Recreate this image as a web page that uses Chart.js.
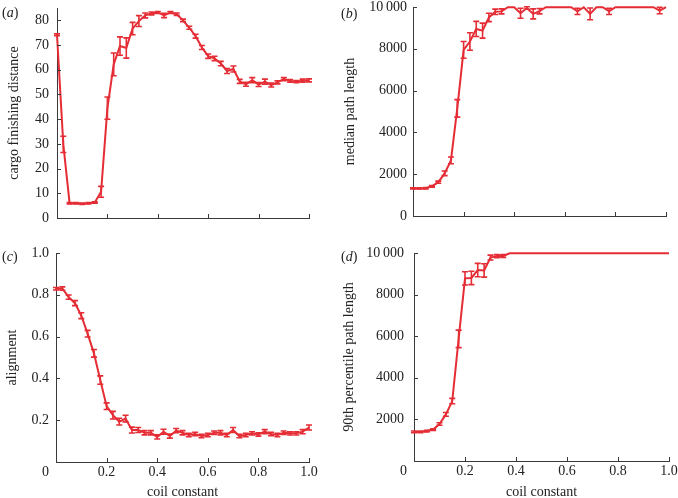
<!DOCTYPE html>
<html>
<head>
<meta charset="utf-8">
<script src="https://cdn.jsdelivr.net/npm/chart.js@4.4.0/dist/chart.umd.min.js"></script>
<style>
  html, body { margin: 0; padding: 0; background: #fff; overflow: hidden; }
  #page { position: relative; width: 678px; height: 498px; overflow: hidden; }
  canvas { position: absolute; }
  .tag { position: absolute; font: 14px "Liberation Serif", serif; color: #222; line-height: 14px; }
</style>
</head>
<body>
<div id="page">
  <canvas id="chart-a" width="339" height="240" style="left:0;top:0"></canvas>
  <canvas id="chart-b" width="339" height="240" style="left:339px;top:0"></canvas>
  <canvas id="chart-c" width="339" height="262" style="left:0;top:240px"></canvas>
  <canvas id="chart-d" width="339" height="262" style="left:339px;top:240px"></canvas>
  <span class="tag" style="left:2px;top:6px">(<i>a</i>)</span>
  <span class="tag" style="left:341px;top:7px">(<i>b</i>)</span>
  <span class="tag" style="left:2px;top:250px">(<i>c</i>)</span>
  <span class="tag" style="left:341px;top:250px">(<i>d</i>)</span>
</div>
<script>
// coil constant values shared by all four panels
const coilConstant = [0, 0.025, 0.05, 0.075, 0.1, 0.125, 0.15, 0.175, 0.2, 0.225,
  0.25, 0.275, 0.3, 0.325, 0.35, 0.375, 0.4, 0.425, 0.45, 0.475,
  0.5, 0.525, 0.55, 0.575, 0.6, 0.625, 0.65, 0.675, 0.7, 0.725,
  0.75, 0.775, 0.8, 0.825, 0.85, 0.875, 0.9, 0.925, 0.95, 0.975, 1.0];

const cargoDistance = [74.2, 29.8, 6.0, 6.0, 5.8, 6.0, 6.3, 10.6, 44.5, 62.2,
  69.6, 68.8, 76.7, 79.7, 82.0, 82.8, 83.2, 82.0, 83.2, 82.5,
  80.0, 77.0, 73.6, 69.0, 65.5, 64.6, 62.5, 59.5, 60.3, 55.3,
  54.1, 55.8, 54.0, 55.2, 53.8, 54.9, 56.2, 55.5, 55.2, 55.6, 55.7];
const cargoDistanceErr = [0.4, 3.3, 0.3, 0.3, 0.3, 0.3, 0.3, 2.2, 4.5, 4.6,
  3.7, 4.1, 2.5, 2.2, 1.0, 0.6, 0.4, 0.9, 0.4, 0.5,
  0.5, 0.6, 0.8, 0.8, 0.9, 0.9, 0.9, 1.0, 1.2, 0.8,
  0.8, 1.0, 0.8, 1.0, 0.8, 0.6, 0.6, 0.5, 0.4, 0.6, 0.6];

const medianPath = [1320, 1320, 1330, 1420, 1620, 2040, 2660, 5150, 7950, 8350,
  8950, 8870, 9500, 9770, 9790, 9990, 9990, 9700, 9950, 9670,
  9800, 9990, 9990, 9990, 9990, 9990, 9790, 9990, 9670, 9990,
  9990, 9790, 9990, 9990, 9990, 9990, 9990, 9990, 9990, 9830, 9990];
const medianPathErr = [30, 30, 30, 40, 50, 110, 160, 420, 400, 420,
  360, 360, 200, 130, 120, 0, 0, 240, 60, 240,
  130, 0, 0, 0, 0, 0, 150, 0, 280, 0,
  0, 150, 0, 0, 0, 0, 0, 0, 0, 150, 0];

const alignment = [0.829, 0.83, 0.789, 0.76, 0.70, 0.614, 0.52, 0.392, 0.267, 0.224,
  0.193, 0.208, 0.153, 0.153, 0.14, 0.14, 0.12, 0.145, 0.124, 0.15,
  0.14, 0.129, 0.134, 0.124, 0.129, 0.14, 0.14, 0.129, 0.153, 0.124,
  0.129, 0.137, 0.132, 0.145, 0.134, 0.129, 0.14, 0.137, 0.137, 0.145, 0.165];
const alignmentErr = [0.006, 0.008, 0.01, 0.012, 0.014, 0.016, 0.018, 0.02, 0.016, 0.018,
  0.016, 0.016, 0.014, 0.012, 0.01, 0.01, 0.01, 0.012, 0.01, 0.01,
  0.01, 0.008, 0.008, 0.008, 0.008, 0.008, 0.01, 0.008, 0.012, 0.008,
  0.008, 0.008, 0.008, 0.01, 0.008, 0.008, 0.008, 0.008, 0.008, 0.01, 0.012];

const pct90Path = [1400, 1400, 1440, 1510, 1780, 2240, 2880, 5870, 8780, 8800,
  9180, 9160, 9780, 9850, 9860, 9990, 9990, 9990, 9990, 9990,
  9990, 9990, 9990, 9990, 9990, 9990, 9990, 9990, 9990, 9990,
  9990, 9990, 9990, 9990, 9990, 9990, 9990, 9990, 9990, 9990, 9990];
const pct90PathErr = [40, 40, 40, 40, 60, 90, 130, 420, 320, 320,
  320, 320, 120, 70, 70, 0, 0, 0, 0, 0,
  0, 0, 0, 0, 0, 0, 0, 0, 0, 0,
  0, 0, 0, 0, 0, 0, 0, 0, 0, 0, 0];

// tick values
const xTicks = [0, 0.2, 0.4, 0.6, 0.8, 1.0];
const cargoTicks = [0, 10, 20, 30, 40, 50, 60, 70, 80];
const pathTicks = [0, 2000, 4000, 6000, 8000, 10000];
const pathTicksNoZero = [2000, 4000, 6000, 8000, 10000];
const alignTicks = [0.2, 0.4, 0.6, 0.8, 1.0];

const RED = '#e52d35';
const AXIS = '#3a3a3a';
const TEXT = '#222';
const FONT = '"Liberation Serif", "Times New Roman", serif';

// error bars, drawn through the chart's own scales
const errorBars = {
  id: 'errorBars',
  afterDatasetsDraw(chart, args, opts) {
    const err = opts.values;
    if (!err) return;
    const pts = chart.data.datasets[0].data;
    const xs = chart.scales.x, ys = chart.scales.y;
    const ctx = chart.ctx;
    ctx.save();
    ctx.strokeStyle = RED;
    ctx.lineWidth = 1.6;
    pts.forEach((p, i) => {
      const e = err[i];
      if (!e) return;
      const px = xs.getPixelForValue(p.x);
      const y1 = ys.getPixelForValue(p.y - e);
      const y2 = ys.getPixelForValue(p.y + e);
      ctx.beginPath();
      ctx.moveTo(px, y1); ctx.lineTo(px, y2);
      ctx.moveTo(px - 3, y1); ctx.lineTo(px + 3, y1);
      ctx.moveTo(px - 3, y2); ctx.lineTo(px + 3, y2);
      ctx.stroke();
    });
    ctx.restore();
  }
};

// short tick marks pointing into the plot
const inwardTicks = {
  id: 'inwardTicks',
  afterDraw(chart) {
    const {ctx, chartArea: a, scales: {x, y}} = chart;
    ctx.save();
    ctx.strokeStyle = AXIS;
    ctx.lineWidth = 1;
    ctx.beginPath();
    x.ticks.forEach(t => {
      const px = Math.round(x.getPixelForValue(t.value)) + 0.5;
      ctx.moveTo(px, a.bottom); ctx.lineTo(px, a.bottom - 4);
    });
    y.ticks.forEach(t => {
      const py = Math.round(y.getPixelForValue(t.value)) + 0.5;
      ctx.moveTo(a.left, py); ctx.lineTo(a.left + 4, py);
    });
    ctx.stroke();
    ctx.restore();
  }
};

function fmtY(v) {
  if (v >= 1000) return v === 10000 ? '10\u2009000' : String(v);
  if (v > 0 && v <= 1) return v.toFixed(1);
  return String(v);
}

function makePanel(id, values, errors, p) {
  const ctx = document.getElementById(id).getContext('2d');
  return new Chart(ctx, {
    type: 'line',
    data: {
      datasets: [{
        data: coilConstant.map((c, i) => ({x: c, y: values[i]})),
        borderColor: RED,
        borderWidth: 2,
        pointRadius: 0,
        fill: false,
        tension: 0,
        clip: false
      }]
    },
    options: {
      responsive: false,
      animation: false,
      events: [],
      layout: {padding: {left: 0, top: p.padTop, right: p.padRight, bottom: 0}},
      plugins: {
        legend: {display: false},
        tooltip: {enabled: false},
        errorBars: {values: errors}
      },
      scales: {
        x: {
          type: 'linear',
          min: 0,
          max: 1,
          grid: {display: true, drawOnChartArea: false, drawTicks: false},
          border: {display: true, color: AXIS, width: 1},
          ticks: {
            display: p.showX,
            padding: 2,
            color: TEXT,
            font: {family: FONT, size: 14},
            maxRotation: 0,
            callback: v => v === 0 ? '0\u2002\u2002\u2002' : v.toFixed(1)
          },
          afterBuildTicks: s => { s.ticks = xTicks.map(v => ({value: v})); },
          title: {
            display: p.showX,
            text: 'coil constant',
            color: TEXT,
            font: {family: FONT, size: 14},
            padding: {top: 0, bottom: 1.6}
          },
          afterFit: s => { s.height = p.xHeight; s.paddingLeft = 0; s.paddingRight = 0; }
        },
        y: {
          type: 'linear',
          min: 0,
          max: p.yMax,
          grid: {display: true, drawOnChartArea: false, drawTicks: false},
          border: {display: true, color: AXIS, width: 1},
          ticks: {
            padding: p.yTickPad,
            color: TEXT,
            font: {family: FONT, size: 14},
            callback: v => fmtY(v)
          },
          afterBuildTicks: s => { s.ticks = p.yTicks.map(v => ({value: v})); },
          title: {
            display: true,
            text: p.yLabel,
            color: TEXT,
            font: {family: FONT, size: 14},
            padding: {top: p.yTitlePad, bottom: 0}
          },
          afterFit: s => { s.width = p.yWidth; s.paddingTop = 0; s.paddingBottom = 0; }
        }
      }
    },
    plugins: [errorBars, inwardTicks]
  });
}

makePanel('chart-a', cargoDistance, cargoDistanceErr, {
  yWidth: 57, padTop: 8, padRight: 30, xHeight: 22, yMax: 85,
  yTicks: cargoTicks, yLabel: 'cargo finishing distance', showX: false,
  yTitlePad: 6, yTickPad: 8
});
makePanel('chart-b', medianPath, medianPathErr, {
  yWidth: 74, padTop: 7, padRight: 12, xHeight: 24, yMax: 10000,
  yTicks: pathTicks, yLabel: 'median path length', showX: false,
  yTitlePad: 2.6, yTickPad: 6
});
makePanel('chart-c', alignment, alignmentErr, {
  yWidth: 56, padTop: 13, padRight: 30, xHeight: 40, yMax: 1,
  yTicks: alignTicks, yLabel: 'alignment', showX: true,
  yTitlePad: 4, yTickPad: 7
});
makePanel('chart-d', pct90Path, pct90PathErr, {
  yWidth: 75, padTop: 13, padRight: 9, xHeight: 41, yMax: 10000,
  yTicks: pathTicksNoZero, yLabel: '90th percentile path length', showX: true,
  yTitlePad: 1.6, yTickPad: 10
});
</script>
</body>
</html>
